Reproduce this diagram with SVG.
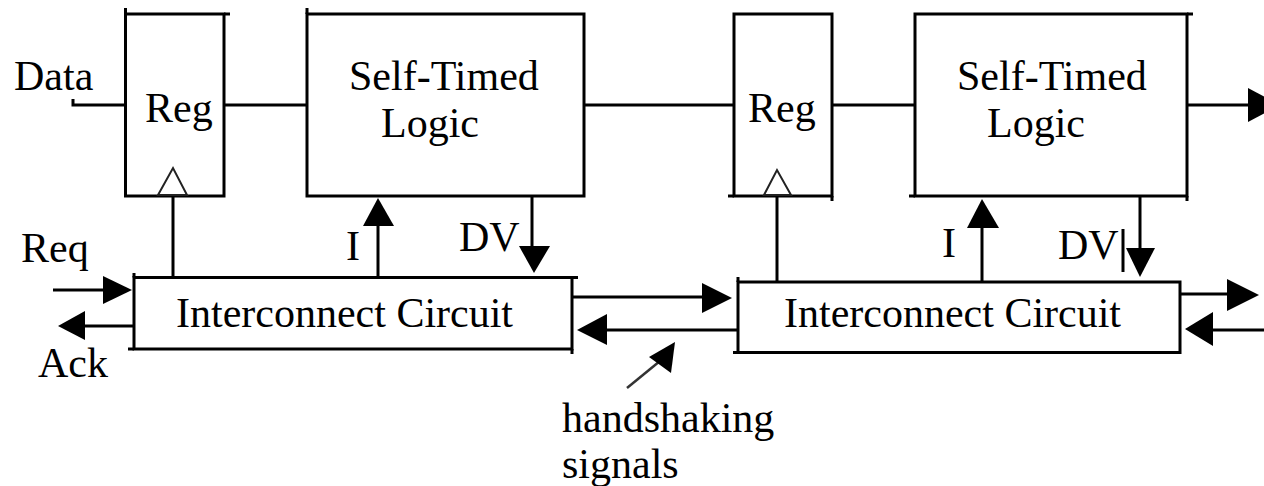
<svg xmlns="http://www.w3.org/2000/svg" width="1264" height="486" viewBox="0 0 1264 486">
<style>
.box{fill:none;stroke:#000;stroke-width:3}
.ln{fill:none;stroke:#000;stroke-width:3}
.ah{fill:#000;stroke:none}
.clk{fill:none;stroke:#222;stroke-width:2}
.t{font-family:"Liberation Serif","Times New Roman",serif;font-size:42px;fill:#000}
</style>
<rect width="1264" height="486" fill="#fff"/>
<g id="reg1">
<rect class="box" x="125.5" y="14" width="98.5" height="182"/>
<line class="ln" x1="125.5" y1="8" x2="125.5" y2="14"/>
<line class="ln" x1="224" y1="14" x2="230" y2="14"/>
<text class="t" x="145" y="122">Reg</text>
<polygon class="clk" points="158,195 173,168 187,195"/>
</g>
<g id="stl1">
<rect class="box" x="307" y="14" width="277" height="182"/>
<line class="ln" x1="307" y1="8" x2="307" y2="14"/>
<text class="t" x="349" y="90">Self-Timed</text>
<text class="t" x="381" y="137">Logic</text>
</g>
<g id="ic1">
<rect class="box" x="134" y="277.5" width="438" height="71.5"/>
<line class="ln" x1="134" y1="273" x2="134" y2="277.5"/>
<line class="ln" x1="572" y1="277.5" x2="578" y2="277.5"/>
<line class="ln" x1="128" y1="349" x2="134" y2="349"/>
<line class="ln" x1="572" y1="349" x2="572" y2="354"/>
<text class="t" x="176" y="327">Interconnect Circuit</text>
</g>
<g id="reg2">
<rect class="box" x="734" y="14" width="98" height="182"/>
<line class="ln" x1="728" y1="196" x2="734" y2="196"/>
<line class="ln" x1="832" y1="196" x2="832" y2="201"/>
<text class="t" x="748" y="122">Reg</text>
<polygon class="clk" points="764,195 777,170 791,195"/>
</g>
<g id="stl2">
<rect class="box" x="915" y="14" width="272" height="182"/>
<line class="ln" x1="1187" y1="14" x2="1193" y2="14"/>
<line class="ln" x1="1187" y1="196" x2="1187" y2="201"/>
<line class="ln" x1="909" y1="196" x2="915" y2="196"/>
<text class="t" x="957" y="90">Self-Timed</text>
<text class="t" x="987" y="137">Logic</text>
</g>
<g id="ic2">
<rect class="box" x="738" y="282" width="442" height="70.5"/>
<line class="ln" x1="738" y1="277" x2="738" y2="282"/>
<line class="ln" x1="733" y1="352.5" x2="738" y2="352.5"/>
<text class="t" x="784" y="327">Interconnect Circuit</text>
</g>
<g id="labels">
<text class="t" x="14" y="90">Data</text>
<text class="t" x="21" y="262">Req</text>
<text class="t" x="38" y="377">Ack</text>
<text class="t" x="346" y="260">I</text>
<text class="t" x="459" y="251">DV</text>
<text class="t" x="942" y="257">I</text>
<text class="t" x="1058" y="259">DV</text>
<text class="t" x="562" y="432">handshaking</text>
<text class="t" x="562" y="478">signals</text>
</g>
<g id="connectors">
<polyline class="ln" points="73,99 73,105 125,105"/>
<line class="ln" x1="224" y1="105" x2="307" y2="105"/>
<line class="ln" x1="584" y1="105" x2="734" y2="105"/>
<line class="ln" x1="832" y1="105" x2="915" y2="105"/>
<line class="ln" x1="1187" y1="105" x2="1252" y2="105"/>
<polygon class="ah" points="1248,88 1248,122 1280,105"/>
<line class="ln" x1="173" y1="196" x2="173" y2="277"/>
<line class="ln" x1="777" y1="196" x2="777" y2="282"/>
<line class="ln" x1="378" y1="224" x2="378" y2="277"/>
<polygon class="ah" points="363,226 378,198 394,226"/>
<line class="ln" x1="982" y1="227" x2="982" y2="282"/>
<polygon class="ah" points="967,228 982,199 999,228"/>
<line class="ln" x1="532" y1="196" x2="532" y2="248"/>
<polygon class="ah" points="519,246 550,246 534,273"/>
<line class="ln" x1="1140" y1="196" x2="1140" y2="249"/>
<polygon class="ah" points="1126,248 1155,248 1140,277"/>
<line class="ln" x1="1123" y1="229" x2="1123" y2="272"/>
<line class="ln" x1="53" y1="290" x2="105" y2="290"/>
<polygon class="ah" points="103,276 103,304 132,290"/>
<line class="ln" x1="134" y1="326" x2="84" y2="326"/>
<polygon class="ah" points="85,311 85,340 58,326"/>
<line class="ln" x1="572" y1="297" x2="704" y2="297"/>
<polygon class="ah" points="702,283 702,313 732,298"/>
<line class="ln" x1="738" y1="330" x2="605" y2="330"/>
<polygon class="ah" points="607,314 607,345 577,330"/>
<line class="ln" x1="1180" y1="294" x2="1229" y2="294"/>
<polygon class="ah" points="1227,279 1227,311 1259,295"/>
<line class="ln" x1="1264" y1="330" x2="1211" y2="330"/>
<polygon class="ah" points="1213,312 1213,346 1185,329"/>
<line x1="627" y1="388" x2="660" y2="361" stroke="#333" stroke-width="2.5"/>
<polygon class="ah" points="675,342 649,357 671,373"/>
</g>
</svg>
